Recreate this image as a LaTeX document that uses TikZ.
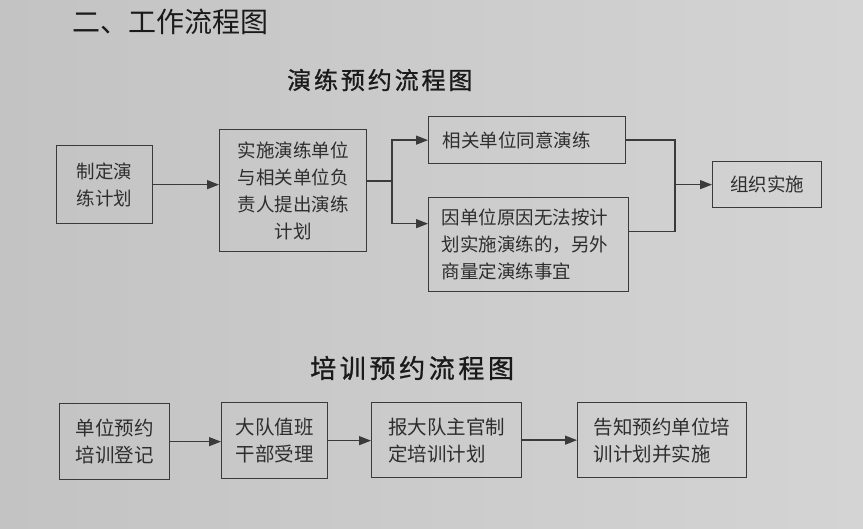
\documentclass[tikz,border=0pt]{standalone}
\usepackage{fontspec}
\setmainfont{Noto Sans CJK SC}
\newfontfamily\ttlfont[LetterSpace=12,FakeBold=1]{Noto Sans CJK SC}
\newfontfamily\ttlfontb[LetterSpace=14,FakeBold=1]{Noto Sans CJK SC}
\usetikzlibrary{arrows.meta,calc}
\definecolor{bgL}{HTML}{C3C3C3}
\definecolor{bgR}{HTML}{D4D4D4}
\definecolor{ink}{HTML}{3A3A3A}
\definecolor{txt}{HTML}{2E2E2E}
\definecolor{ttl}{HTML}{1A1A1A}
\tikzset{
  box/.style={draw=ink, line width=1.3pt, anchor=north west, inner sep=0pt, text=txt,
    font=\fontsize{18.5}{27}\selectfont},
  boxb/.style={box, font=\fontsize{19.5}{27}\selectfont},
  conn/.style={draw=ink, line width=1.3pt},
  arr/.style={conn, -{Triangle[length=12pt,width=9pt]}},
  title/.style={anchor=west, inner sep=0pt, text=ttl}
}
\begin{document}
\begin{tikzpicture}[x=1pt,y=-1pt]
\useasboundingbox (0,0) rectangle (863,529);
\shade[left color=bgL, right color=bgR] (0,0) rectangle (863,529);

% titles
\node[title, font=\fontsize{28}{28}\selectfont] (T0) at (72,22) {二、工作流程图};
\node[title, font=\ttlfont\fontsize{24}{24}\selectfont] (T1) at (287,80) {演练预约流程图};
\node[title, font=\ttlfontb\fontsize{26}{26}\selectfont] (T2) at (310,368) {培训预约流程图};

% top flow
\node[box, minimum width=96pt, minimum height=78pt, align=left] (A) at (56,145) {制定演\\练计划};
\node[box, minimum width=147pt, minimum height=122pt, align=center] (B) at (219,129) {实施演练单位\\与相关单位负\\责人提出演练\\计划};
\node[box, minimum width=197pt, minimum height=47pt, align=left, text width=169pt] (C) at (428,116) {相关单位同意演练};
\node[box, minimum width=200pt, minimum height=94pt, align=left, text width=174pt] (D) at (428,197) {因单位原因无法按计\\划实施演练的，另外\\商量定演练事宜};
\node[box, minimum width=109pt, minimum height=46pt] (E) at (712,161) {组织实施};

\coordinate (split) at (392,181);
\coordinate (merge) at (675,184);
\draw[arr] (A.east) -- (A.east -| B.west);
\draw[conn] (B.east |- split) -- (split);
\draw[arr] (split) |- (C.west);
\draw[arr] (split) |- ([yshift=21pt]D.west);
\draw[conn] (C.east) -| (merge);
\draw[conn] ([yshift=13pt]D.east) -| (merge);
\draw[arr] (E.west -| merge) -- (E.west);

% bottom flow
\node[boxb, minimum width=110pt, minimum height=76pt, align=left] (F) at (59,403) {单位预约\\培训登记};
\node[boxb, minimum width=106pt, minimum height=76pt, align=left] (G) at (221,402) {大队值班\\干部受理};
\node[boxb, minimum width=150pt, minimum height=75pt, align=left] (H) at (371,402) {报大队主官制\\定培训计划};
\node[boxb, minimum width=169pt, minimum height=75pt, align=left] (I) at (577,402) {告知预约单位培\\训计划并实施};

\draw[arr] (F.east) -- (F.east -| G.west);
\draw[arr] (G.east) -- (G.east -| H.west);
\draw[arr] (H.east) -- (H.east -| I.west);
\end{tikzpicture}
\end{document}
